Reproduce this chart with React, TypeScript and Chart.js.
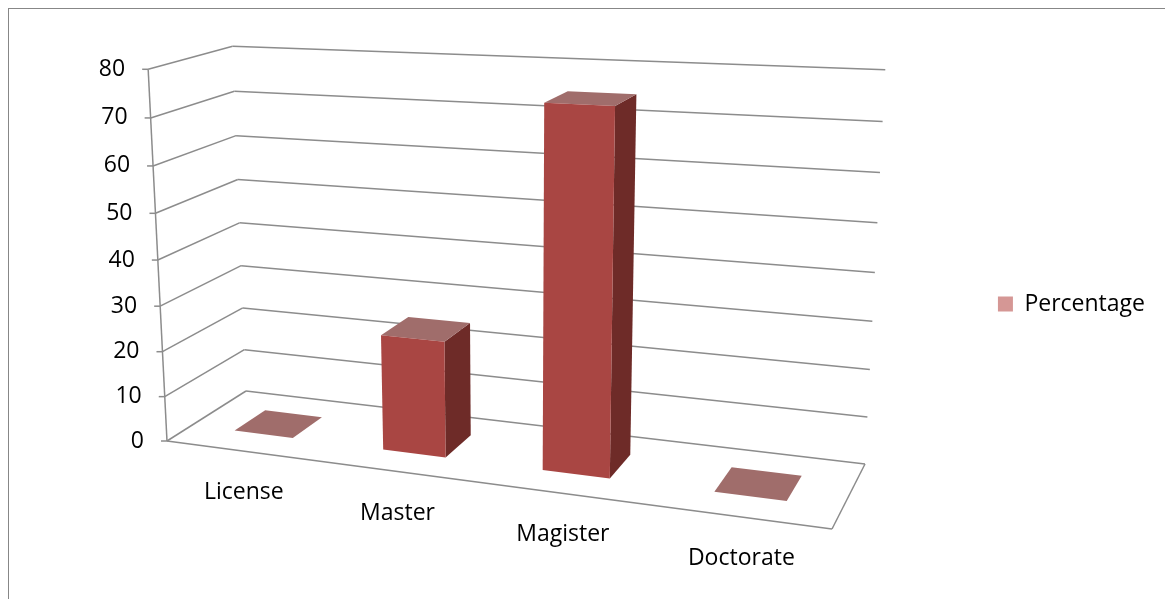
import React, { useEffect, useRef } from "react";
import { Chart, registerables } from "chart.js";

Chart.register(...registerables);

// ---------- data ----------
const categories: string[] = ["License", "Master", "Magister", "Doctorate"];
const percentageValues: number[] = [0, 25, 75, 0];
const seriesLabel = "Percentage";
const yMin = 0;
const yMax = 80;
const yStep = 10;

// ---------- style / layout ----------
const FONT = "'Open Sans'";
const FONT_SIZE = 23;
const FRONT_COLOR = "#A94643";
const SIDE_COLOR = "#6E2B28";
const TOP_COLOR = "#A06D6B";
const LEGEND_COLOR = "#D59795";
const GRID_COLOR = "#8C8C8C";
const FRAME_COLOR = "#878787";
const CANVAS_W = 1156;
const CANVAS_H = 590;

// 3D box frame (canvas px): floor corners and top corners of the walls
const BOX = {
  floorFrontLeft: [158, 432],
  floorFrontRight: [823, 520],
  floorBackRight: [856, 455],
  floorBackLeft: [237, 382],
  topFrontLeft: [139, 57],
  topBackLeft: [224, 34],
  topBackRight: [876, 68],
};
const BAR_Z0 = 0.3;
const BAR_Z1 = 0.7;
const LABEL_DROP = 42;
const LABEL_SHIFT_X = 4;
const TICK_LEN = 6;
const TICK_LABEL_GAP = 23;

type Pt = [number, number];

function makeProjector() {
  const [x0, y0] = BOX.floorFrontLeft;
  const [x1, y1] = BOX.floorFrontRight;
  const [x2, y2] = BOX.floorBackRight;
  const [x3, y3] = BOX.floorBackLeft;
  const dx1 = x1 - x2, dx2 = x3 - x2, dx3 = x0 - x1 + x2 - x3;
  const dy1 = y1 - y2, dy2 = y3 - y2, dy3 = y0 - y1 + y2 - y3;
  const den = dx1 * dy2 - dx2 * dy1;
  const g = (dx3 * dy2 - dx2 * dy3) / den;
  const h = (dx1 * dy3 - dx3 * dy1) / den;
  const a = x1 - x0 + g * x1, b = x3 - x0 + h * x3, c = x0;
  const d = y1 - y0 + g * y1, e = y3 - y0 + h * y3, f = y0;
  const hu = [a, d, g], hz = [b, e, h], h1 = [c, f, 1];
  const base = (u: number, z: number) => [
    u * hu[0] + z * hz[0] + h1[0],
    u * hu[1] + z * hz[1] + h1[1],
    u * hu[2] + z * hz[2] + h1[2],
  ];
  const tops: [number, number, Pt][] = [
    [0, 0, BOX.topFrontLeft as Pt],
    [0, 1, BOX.topBackLeft as Pt],
    [1, 1, BOX.topBackRight as Pt],
  ];
  const rows: number[][] = [];
  const rhs: number[] = [];
  for (const [u, z, [x, y]] of tops) {
    const B = base(u, z);
    rows.push([1, 0, -x]);
    rhs.push(x * B[2] - B[0]);
    rows.push([0, 1, -y]);
    rhs.push(y * B[2] - B[1]);
  }
  const M = [
    [0, 0, 0],
    [0, 0, 0],
    [0, 0, 0],
  ];
  const r = [0, 0, 0];
  rows.forEach((row, k) => {
    for (let i = 0; i < 3; i++) {
      r[i] += row[i] * rhs[k];
      for (let j = 0; j < 3; j++) M[i][j] += row[i] * row[j];
    }
  });
  const det3 = (m: number[][]) =>
    m[0][0] * (m[1][1] * m[2][2] - m[1][2] * m[2][1]) -
    m[0][1] * (m[1][0] * m[2][2] - m[1][2] * m[2][0]) +
    m[0][2] * (m[1][0] * m[2][1] - m[1][1] * m[2][0]);
  const D = det3(M);
  const pv = [0, 1, 2].map((col) => {
    const m = M.map((row, i) => row.map((val, j) => (j === col ? r[i] : val)));
    return det3(m) / D;
  });
  return (u: number, v: number, z: number): Pt => {
    const B = base(u, z);
    const X = B[0] + v * pv[0];
    const Y = B[1] + v * pv[1];
    const W = B[2] + v * pv[2];
    return [X / W, Y / W];
  };
}

const box3dPlugin = {
  id: "box3d",
  beforeDatasetsDraw(chart: any) {
    const ctx: CanvasRenderingContext2D = chart.ctx;
    const xs = chart.scales.x;
    const ys = chart.scales.y;
    const P = makeProjector();
    const toV = (px: number) => (ys.bottom - px) / (ys.bottom - ys.top);
    const toU = (px: number) => (px - xs.left) / (xs.right - xs.left);

    const line = (p: Pt, q: Pt) => {
      ctx.beginPath();
      ctx.moveTo(p[0], p[1]);
      ctx.lineTo(q[0], q[1]);
      ctx.stroke();
    };
    const poly = (pts: Pt[], color: string) => {
      ctx.beginPath();
      ctx.moveTo(pts[0][0], pts[0][1]);
      for (let i = 1; i < pts.length; i++) ctx.lineTo(pts[i][0], pts[i][1]);
      ctx.closePath();
      ctx.fillStyle = color;
      ctx.fill();
    };

    ctx.save();
    let tickValues: number[] = (ys.ticks || []).map((t: any) => t.value);
    if (!tickValues.length) {
      for (let t = yMin; t <= yMax; t += yStep) tickValues.push(t);
    }

    // walls gridlines
    ctx.strokeStyle = GRID_COLOR;
    ctx.lineWidth = 1.5;
    for (const t of tickValues) {
      const v = toV(ys.getPixelForValue(t));
      line(P(0, v, 0), P(0, v, 1));
      line(P(0, v, 1), P(1, v, 1));
    }
    // value axis + floor outline
    line(P(0, 0, 0), P(0, 1, 0));
    line(P(0, 0, 0), P(1, 0, 0));
    line(P(1, 0, 0), P(1, 0, 1));

    // ticks + tick labels
    ctx.fillStyle = "#000";
    ctx.font = `${FONT_SIZE}px ${FONT}`;
    ctx.textAlign = "right";
    ctx.textBaseline = "middle";
    for (const t of tickValues) {
      const v = toV(ys.getPixelForValue(t));
      const p = P(0, v, 0);
      line([p[0] - TICK_LEN, p[1]], p);
      ctx.fillText(String(t), p[0] - TICK_LABEL_GAP, p[1]);
    }

    // category labels
    ctx.textAlign = "center";
    categories.forEach((cat, i) => {
      const u = toU(xs.getPixelForValue(i));
      const p = P(u, 0, 0);
      ctx.fillText(cat, p[0] + LABEL_SHIFT_X, p[1] + LABEL_DROP);
    });

    // bars
    const meta = chart.getDatasetMeta(0);
    meta.data.forEach((el: any) => {
      const pr = el.getProps(["x", "y", "base", "width"], true);
      const uc = toU(pr.x);
      const hw = pr.width / 2 / (xs.right - xs.left);
      const u0 = uc - hw, u1 = uc + hw;
      const v0 = toV(pr.base), v1 = toV(pr.y);
      const z0 = BAR_Z0, z1 = BAR_Z1;
      if (Math.abs(v1 - v0) > 1e-4) {
        poly([P(u1, v0, z0), P(u1, v0, z1), P(u1, v1, z1), P(u1, v1, z0)], SIDE_COLOR);
        poly([P(u0, v1, z0), P(u1, v1, z0), P(u1, v1, z1), P(u0, v1, z1)], TOP_COLOR);
        poly([P(u0, v0, z0), P(u1, v0, z0), P(u1, v1, z0), P(u0, v1, z0)], FRONT_COLOR);
      } else {
        poly([P(u0, v1, z0), P(u1, v1, z0), P(u1, v1, z1), P(u0, v1, z1)], TOP_COLOR);
      }
    });
    ctx.restore();
    return false;
  },
};

export default function App() {
  const ref = useRef<HTMLCanvasElement | null>(null);
  useEffect(() => {
    if (!ref.current) return;
    const chart = new Chart(ref.current, {
      type: "bar",
      data: {
        labels: categories,
        datasets: [
          {
            label: seriesLabel,
            data: percentageValues,
            backgroundColor: LEGEND_COLOR,
            barPercentage: 0.4,
            categoryPercentage: 1,
          },
        ],
      },
      options: {
        animation: false,
        responsive: false,
        events: [],
        layout: { padding: { right: 10 } },
        scales: {
          x: { display: false },
          y: { display: false, min: yMin, max: yMax, ticks: { stepSize: yStep } },
        },
        plugins: {
          legend: {
            position: "right",
            labels: {
              boxWidth: 15,
              boxHeight: 15,
              padding: 10,
              color: "#000",
              font: { family: FONT, size: FONT_SIZE },
            },
          },
          tooltip: { enabled: false },
        },
      },
      plugins: [box3dPlugin],
    } as any);
    return () => chart.destroy();
  }, []);
  return (
    <div
      style={{
        position: "fixed",
        left: 8,
        top: 8,
        right: 0,
        bottom: 0,
        overflow: "hidden",
        background: "#fff",
        borderTop: `1px solid ${FRAME_COLOR}`,
        borderLeft: `1px solid ${FRAME_COLOR}`,
      }}
    >
      <canvas ref={ref} width={CANVAS_W} height={CANVAS_H} style={{ display: "block" }} />
    </div>
  );
}
